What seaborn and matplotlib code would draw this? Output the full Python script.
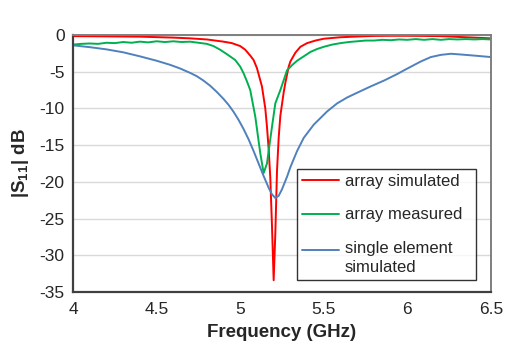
import numpy as np
import pandas as pd
import matplotlib
matplotlib.use('Agg')
import matplotlib.pyplot as plt
import seaborn as sns

# ------------- data -------------
red_f = [4.0, 4.2, 4.4, 4.6, 4.7, 4.8, 4.9, 4.95, 5.0, 5.03, 5.06, 5.08, 5.1,
         5.13, 5.15, 5.16, 5.17, 5.18, 5.19, 5.2, 5.21, 5.22, 5.23, 5.24, 5.26,
         5.27, 5.29, 5.3, 5.33, 5.36, 5.4, 5.45, 5.5, 5.6, 5.7, 5.8, 5.9, 6.0,
         6.1, 6.2, 6.3, 6.4, 6.5]
red_db = [-0.15, -0.18, -0.22, -0.35, -0.45, -0.6, -0.9, -1.1, -1.5, -2.0,
          -2.8, -3.4, -4.5, -7.0, -10.0, -12.5, -15.5, -19.5, -26.0, -33.4,
          -27.0, -18.5, -14.0, -11.0, -7.8, -6.5, -4.3, -3.6, -2.4, -1.6, -1.1,
          -0.75, -0.5, -0.3, -0.2, -0.12, -0.1, -0.1, -0.12, -0.15, -0.25,
          -0.35, -0.45]

grn_f = [4.0, 4.05, 4.1, 4.15, 4.2, 4.25, 4.3, 4.35, 4.4, 4.45, 4.5, 4.55,
         4.6, 4.65, 4.7, 4.75, 4.8, 4.84, 4.88, 4.92, 4.97, 5.0, 5.02, 5.04,
         5.06, 5.09, 5.12, 5.14, 5.16, 5.17, 5.19, 5.21, 5.24, 5.28, 5.31,
         5.34, 5.38, 5.42, 5.46, 5.5, 5.55, 5.6, 5.65, 5.7, 5.75, 5.8, 5.85,
         5.9, 5.95, 6.0, 6.05, 6.1, 6.15, 6.2, 6.25, 6.3, 6.35, 6.4, 6.45, 6.5]
grn_db = [-1.3, -1.2, -1.15, -1.2, -1.05, -1.1, -0.95, -1.05, -0.9, -1.0,
          -0.85, -0.95, -0.85, -0.95, -0.9, -1.05, -1.2, -1.5, -2.0, -2.6,
          -3.4, -4.3, -5.2, -6.3, -7.5, -11.1, -16.1, -18.8, -17.5, -15.8,
          -12.5, -9.3, -7.5, -4.8, -4.1, -3.5, -2.9, -2.3, -1.9, -1.6, -1.3,
          -1.1, -0.95, -0.85, -0.75, -0.75, -0.65, -0.7, -0.6, -0.65, -0.55,
          -0.65, -0.55, -0.65, -0.55, -0.6, -0.55, -0.6, -0.55, -0.6]

blu_f = [4.0, 4.1, 4.2, 4.3, 4.4, 4.5, 4.58, 4.64, 4.7, 4.74, 4.78, 4.82,
         4.86, 4.9, 4.93, 4.96, 4.99, 5.02, 5.05, 5.08, 5.11, 5.14, 5.17,
         5.19, 5.21, 5.23, 5.25, 5.28, 5.3, 5.34, 5.38, 5.44, 5.52, 5.58,
         5.64, 5.7, 5.78, 5.86, 5.94, 5.98, 6.03, 6.08, 6.14, 6.2, 6.26, 6.32,
         6.4, 6.5]
blu_db = [-1.4, -1.65, -1.95, -2.35, -2.9, -3.5, -4.05, -4.55, -5.15, -5.6,
          -6.2, -6.9, -7.75, -8.7, -9.5, -10.45, -11.55, -12.8, -14.2, -15.8,
          -17.5, -19.2, -20.8, -21.7, -22.2, -21.9, -21.0, -19.3, -18.0, -15.8,
          -14.0, -12.2, -10.4, -9.3, -8.5, -7.85, -7.0, -6.2, -5.3, -4.8, -4.2,
          -3.6, -3.0, -2.7, -2.55, -2.65, -2.8, -3.0]

labels = ['array simulated', 'array measured', 'single element\nsimulated']
colors = ['#ff0000', '#00b050', '#4f81bd']

# ------------- theme -------------
sns.set_style('white')
plt.rcParams.update({
    'font.family': ['Liberation Sans', 'DejaVu Sans'],
    'mathtext.fontset': 'custom',
    'mathtext.rm': 'Liberation Sans',
    'mathtext.bf': 'Liberation Sans:bold',
    'axes.unicode_minus': False,
})

fig = plt.figure(figsize=(5.05, 3.47), dpi=100)
ax = fig.add_axes([0.1446, 0.1585, 0.8277, 0.7405])

for f, db, lab, c in zip([red_f, grn_f, blu_f], [red_db, grn_db, blu_db], labels, colors):
    sns.lineplot(x=f, y=db, ax=ax, color=c, linewidth=1.4, label=lab)

ax.set_xlim(4, 6.5)
ax.set_ylim(-35, 0)
ax.set_xticks([4, 4.5, 5, 5.5, 6, 6.5])
ax.set_xticklabels(['4', '4.5', '5', '5.5', '6', '6.5'])
ax.set_yticks(np.arange(-35, 1, 5))
ax.yaxis.grid(True, color='#d9d9d9', linewidth=1)
ax.set_axisbelow(True)

ax.tick_params(axis='x', direction='in', length=5, width=1, color='#404040',
               labelsize=12.5, pad=7)
ax.tick_params(axis='y', direction='out', length=5, width=1, color='#d9d9d9',
               labelsize=12.5, pad=1)

for s in ['left', 'bottom']:
    ax.spines[s].set_color('#404040')
    ax.spines[s].set_linewidth(1.6)
for s in ['top', 'right']:
    ax.spines[s].set_color('#7f7f7f')
    ax.spines[s].set_linewidth(1.4)

ax.set_xlabel('Frequency (GHz)', fontsize=13.5, fontweight='bold', labelpad=5)
ax.set_ylabel(r'|S$_{\mathbf{11}}$| dB', fontsize=13.5, fontweight='bold', labelpad=6)

leg = ax.legend(loc='lower left', bbox_to_anchor=(0.536, 0.047, 0.427, 0.4),
                mode='expand', fontsize=12,
                frameon=True, fancybox=False, edgecolor='black',
                handlelength=2.2, handletextpad=0.35, labelspacing=1.13,
                borderpad=0.3, borderaxespad=0)
leg.get_frame().set_linewidth(1.0)
for t in leg.get_texts():
    t.set_linespacing(1.3)
# two-line entry: handle sits next to the first line
blue_handle = leg.get_lines()[2]
blue_handle.set_ydata(np.asarray(blue_handle.get_ydata()) + 5.8)

fig.savefig('out.png', dpi=100)
